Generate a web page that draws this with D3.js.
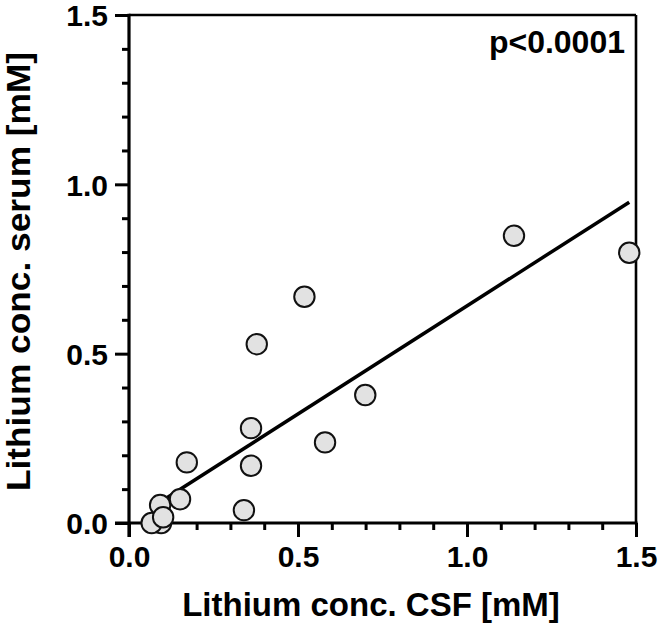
<!DOCTYPE html>
<html>
<head>
<meta charset="utf-8">
<script src="https://cdn.jsdelivr.net/npm/d3@7/dist/d3.min.js"></script>
<style>
  html, body { margin: 0; padding: 0; background: #fff; }
  svg text { font-family: "Liberation Sans", Arial, Helvetica, sans-serif; font-weight: bold; fill: #000; }
</style>
</head>
<body>
<svg id="chart" width="659" height="629"></svg>
<script>
// ---- data ----
const csf   = [0.095, 0.067, 0.092, 0.101, 0.151, 0.171, 0.340, 0.361, 0.361, 0.378, 0.519, 0.580, 0.699, 1.139, 1.480];
const serum = [0.000, 0.000, 0.053, 0.017, 0.070, 0.179, 0.038, 0.169, 0.280, 0.528, 0.668, 0.238, 0.378, 0.848, 0.798];
const xMajorTicks = [0, 0.5, 1.0, 1.5];
const yMajorTicks = [0, 0.5, 1.0, 1.5];
const minorTicks = [0.1, 0.2, 0.3, 0.4, 0.6, 0.7, 0.8, 0.9, 1.1, 1.2, 1.3, 1.4];
const fitSlope = 0.638;
const fitIntercept = 0.003;
const xTitle = "Lithium conc. CSF [mM]";
const yTitle = "Lithium conc. serum [mM]";
const pLabel = "p<0.0001";

// ---- layout ----
const svg = d3.select("#chart");
const L = 129, R = 636, T = 15, B = 523;
const x = d3.scaleLinear().domain([0, 1.5]).range([L, R]);
const y = d3.scaleLinear().domain([0, 1.5]).range([B, T]);
const fmt = d3.format(".1f");

svg.append("rect").attr("width", 659).attr("height", 629).attr("fill", "#fff");

// frame (top + right)
svg.append("line").attr("x1", x(0)).attr("x2", x(1.5)).attr("y1", y(1.5)).attr("y2", y(1.5))
  .attr("stroke", "#000").attr("stroke-width", 2.6);
svg.append("line").attr("x1", x(1.5)).attr("x2", x(1.5)).attr("y1", y(1.5)).attr("y2", y(0))
  .attr("stroke", "#000").attr("stroke-width", 2.6);

// x axis
const gx = svg.append("g").attr("transform", `translate(0,${B})`);
gx.call(d3.axisBottom(x).tickValues(xMajorTicks).tickSize(14).tickSizeOuter(0).tickPadding(9).tickFormat(fmt));
const gxm = svg.append("g").attr("transform", `translate(0,${B})`);
gxm.call(d3.axisBottom(x).tickValues(minorTicks).tickSize(7).tickSizeOuter(0).tickFormat(""));

// y axis
const gy = svg.append("g").attr("transform", `translate(${L},0)`);
gy.call(d3.axisLeft(y).tickValues(yMajorTicks).tickSize(14).tickSizeOuter(0).tickPadding(7).tickFormat(fmt));
const gym = svg.append("g").attr("transform", `translate(${L},0)`);
gym.call(d3.axisLeft(y).tickValues(minorTicks).tickSize(7).tickSizeOuter(0).tickFormat(""));

[gx, gxm, gy, gym].forEach(g => {
  g.select(".domain").remove();
  g.selectAll(".tick line").attr("stroke", "#000").attr("stroke-width", 3);
});
gx.selectAll(".tick text").style("font-size", "30px").attr("dy", "0.71em");
gy.selectAll(".tick text").style("font-size", "30px").attr("dy", "0.36em");

// axis lines (extend to the outer end of the 0 ticks)
svg.append("line").attr("x1", x(0) - 14).attr("x2", x(1.5) + 1.5).attr("y1", y(0)).attr("y2", y(0))
  .attr("stroke", "#000").attr("stroke-width", 3.2);
svg.append("line").attr("x1", x(0)).attr("x2", x(0)).attr("y1", y(0) + 14).attr("y2", y(1.5) - 1.3)
  .attr("stroke", "#000").attr("stroke-width", 3.2);

// regression line
const xMin = d3.min(csf), xMax = d3.max(csf);
svg.append("line")
  .attr("x1", x(xMin)).attr("y1", y(fitSlope * xMin + fitIntercept))
  .attr("x2", x(xMax)).attr("y2", y(fitSlope * xMax + fitIntercept))
  .attr("stroke", "#000").attr("stroke-width", 3.5);

// points
svg.append("g").selectAll("circle")
  .data(csf.map((v, i) => [v, serum[i]]))
  .join("circle")
  .attr("cx", d => x(d[0])).attr("cy", d => y(d[1]))
  .attr("r", 10.2)
  .attr("fill", "#e2e2e2").attr("stroke", "#111").attr("stroke-width", 2);

// p-value label
svg.append("text").attr("x", 625).attr("y", 53).attr("text-anchor", "end")
  .style("font-size", "32px").text(pLabel);

// titles
svg.append("text").attr("x", 371).attr("y", 616).attr("text-anchor", "middle")
  .style("font-size", "33px").text(xTitle);
svg.append("text").attr("transform", "translate(30,271.5) rotate(-90) scale(1.07,1)").attr("text-anchor", "middle")
  .style("font-size", "33px").text(yTitle);
</script>
</body>
</html>
